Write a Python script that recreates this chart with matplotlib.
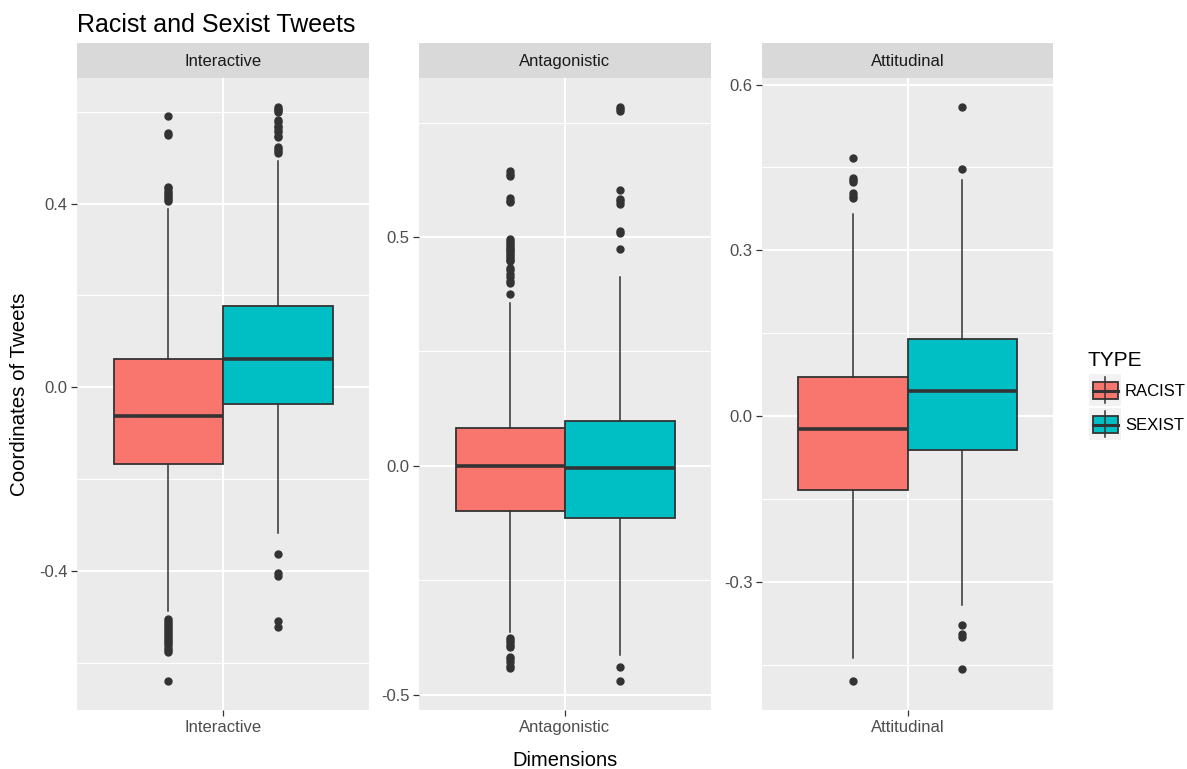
import matplotlib
matplotlib.use("Agg")
import matplotlib.pyplot as plt
from matplotlib.patches import Rectangle
from matplotlib.lines import Line2D

plt.rcParams['font.family'] = ['Liberation Sans', 'DejaVu Sans']

# ---------------------------------------------------------------- data
dimensions = ["Interactive", "Antagonistic", "Attitudinal"]
types = ["RACIST", "SEXIST"]
type_colors = ["#F8766D", "#00BFC4"]

# box statistics per dimension (Interactive, Antagonistic, Attitudinal)
racist_whislo = [-0.486, -0.364, -0.438]
racist_q1 = [-0.166, -0.0996, -0.134]
racist_med = [-0.0625, 0.0005, -0.024]
racist_q3 = [0.061, 0.0823, 0.071]
racist_whishi = [0.388, 0.356, 0.365]
racist_outliers = [
    [0.591, 0.553, 0.549, 0.437, 0.433, 0.428, 0.424, 0.419, 0.414,
     0.410, 0.405,
     -0.505, -0.509, -0.513, -0.518, -0.522, -0.527, -0.531, -0.535,
     -0.540, -0.544, -0.548, -0.553, -0.557, -0.562, -0.567, -0.571,
     -0.576, -0.640],
    [0.644, 0.639, 0.634, 0.585, 0.580, 0.576, 0.495, 0.491, 0.487,
     0.483, 0.479, 0.475, 0.471, 0.467, 0.463, 0.459, 0.455, 0.451,
     0.447, 0.433, 0.427, 0.419, 0.413, 0.405, 0.399, 0.375,
     -0.376, -0.381, -0.386, -0.391, -0.396, -0.418, -0.423, -0.428,
     -0.437, -0.442],
    [0.468, 0.431, 0.427, 0.423, 0.404, 0.399, 0.395, -0.480],
]

sexist_whislo = [-0.3165, -0.4127, -0.3415]
sexist_q1 = [-0.037, -0.114, -0.0607]
sexist_med = [0.0624, -0.005, 0.045]
sexist_q3 = [0.1764, 0.097, 0.140]
sexist_whishi = [0.493, 0.4135, 0.428]
sexist_outliers = [
    [0.611, 0.607, 0.603, 0.599, 0.582, 0.578, 0.570, 0.566, 0.561,
     0.557, 0.548, 0.544, 0.524, 0.520, 0.515, 0.510,
     -0.362, -0.405, -0.410, -0.509, -0.521],
    [0.785, 0.781, 0.776, 0.604, 0.583, 0.578, 0.573, 0.514, 0.508,
     0.475, -0.439, -0.471],
    [0.560, 0.448, -0.379, -0.394, -0.399, -0.457],
]

# y tick values per facet (free scales)
yticks_major = [[-0.4, 0.0, 0.4], [-0.5, 0.0, 0.5], [-0.3, 0.0, 0.3, 0.6]]
yticks_minor = [[-0.6, -0.2, 0.2, 0.6], [-0.25, 0.25, 0.75],
                [-0.45, -0.15, 0.15, 0.45]]

# ---------------------------------------------------------------- layout
W, H = 1187, 769
fig = plt.figure(figsize=(W / 100, H / 100), dpi=100)
fig.patch.set_facecolor("white")


def rect(x0, y0, x1, y1):
    return [x0 / W, 1 - y1 / H, (x1 - x0) / W, (y1 - y0) / H]


panel_x = [(77, 369), (419, 711), (762, 1053)]
panel_top, panel_bottom = 78, 710
strip_top = 43

DARK = "#333333"
TICKLAB = "#4D4D4D"

for i, dim in enumerate(dimensions):
    x0, x1 = panel_x[i]
    ax = fig.add_axes(rect(x0, panel_top, x1, panel_bottom))
    ax.set_facecolor("#EBEBEB")
    for s in ax.spines.values():
        s.set_visible(False)
    ax.set_axisbelow(True)

    stats = [
        dict(med=racist_med[i], q1=racist_q1[i], q3=racist_q3[i],
             whislo=racist_whislo[i], whishi=racist_whishi[i],
             fliers=racist_outliers[i]),
        dict(med=sexist_med[i], q1=sexist_q1[i], q3=sexist_q3[i],
             whislo=sexist_whislo[i], whishi=sexist_whishi[i],
             fliers=sexist_outliers[i]),
    ]
    bp = ax.bxp(stats, positions=[0.775, 1.225], widths=0.45,
                patch_artist=True, showcaps=False,
                boxprops=dict(edgecolor=DARK, linewidth=1.3),
                whiskerprops=dict(color=DARK, linewidth=1.1),
                medianprops=dict(color=DARK, linewidth=2.6,
                                 solid_capstyle="butt"),
                flierprops=dict(marker="o", markerfacecolor=DARK,
                                markeredgecolor=DARK, markersize=5,
                                linestyle="none"),
                manage_ticks=False)
    for patch, col in zip(bp["boxes"], type_colors):
        patch.set_facecolor(col)

    # free y scale with 5% expansion on the data range
    all_vals = (racist_outliers[i] + sexist_outliers[i] +
                [racist_whislo[i], racist_whishi[i],
                 sexist_whislo[i], sexist_whishi[i]])
    lo, hi = min(all_vals), max(all_vals)
    pad = 0.05 * (hi - lo)
    ax.set_ylim(lo - pad, hi + pad)
    ax.set_xlim(0.4, 1.6)

    ax.set_yticks(yticks_major[i])
    ax.set_yticklabels(["{:.1f}".format(v) for v in yticks_major[i]])
    ax.set_yticks(yticks_minor[i], minor=True)
    ax.set_xticks([1])
    ax.set_xticklabels([dim])

    ax.grid(True, which="major", color="white", linewidth=1.5)
    ax.grid(True, which="minor", axis="y", color="white", linewidth=0.8)
    ax.tick_params(which="major", length=4, width=0.9, color=DARK,
                   labelsize=12, labelcolor=TICKLAB, pad=3)
    ax.tick_params(which="minor", length=0)

    # facet strip
    sax = fig.add_axes(rect(x0, strip_top, x1, panel_top))
    sax.set_facecolor("#D9D9D9")
    sax.set_xticks([])
    sax.set_yticks([])
    for s in sax.spines.values():
        s.set_visible(False)
    sax.text(0.5, 0.48, dim, ha="center", va="center", fontsize=12,
             color="#1A1A1A", transform=sax.transAxes)

# ---------------------------------------------------------------- titles
fig.text(77 / W, 1 - 32 / H, "Racist and Sexist Tweets", fontsize=18,
         ha="left", va="baseline", color="black")
fig.text(565 / W, 1 - 766 / H, "Dimensions", fontsize=14.5,
         ha="center", va="baseline", color="black")
fig.text(20 / W, 1 - 394 / H, "Coordinates of Tweets", fontsize=14.8,
         ha="center", va="center", rotation=90, color="black")

# ---------------------------------------------------------------- legend
lax = fig.add_axes(rect(1080, 340, 1187, 450))
lax.set_xlim(1080, 1187)
lax.set_ylim(450, 340)
lax.axis("off")
lax.text(1087.5, 366, "TYPE", fontsize=15, ha="left", va="baseline",
         color="black")
key_tops = [374, 408]
for top, col, lab in zip(key_tops, type_colors, types):
    lax.add_patch(Rectangle((1089, top), 32, 32, facecolor="#F2F2F2",
                            edgecolor="none"))
    cx = 1105
    lax.add_line(Line2D([cx, cx], [top + 3, top + 29], color=DARK, lw=1.1))
    lax.add_patch(Rectangle((1092.5, top + 8), 25, 17, facecolor=col,
                            edgecolor=DARK, lw=1.3))
    lax.add_line(Line2D([1092.5, 1117.5], [top + 16.5, top + 16.5],
                        color=DARK, lw=2.2))
    lax.text(1125, top + 22.5, lab, fontsize=12, ha="left", va="baseline",
             color="black")

fig.savefig("out.png", dpi=100)
